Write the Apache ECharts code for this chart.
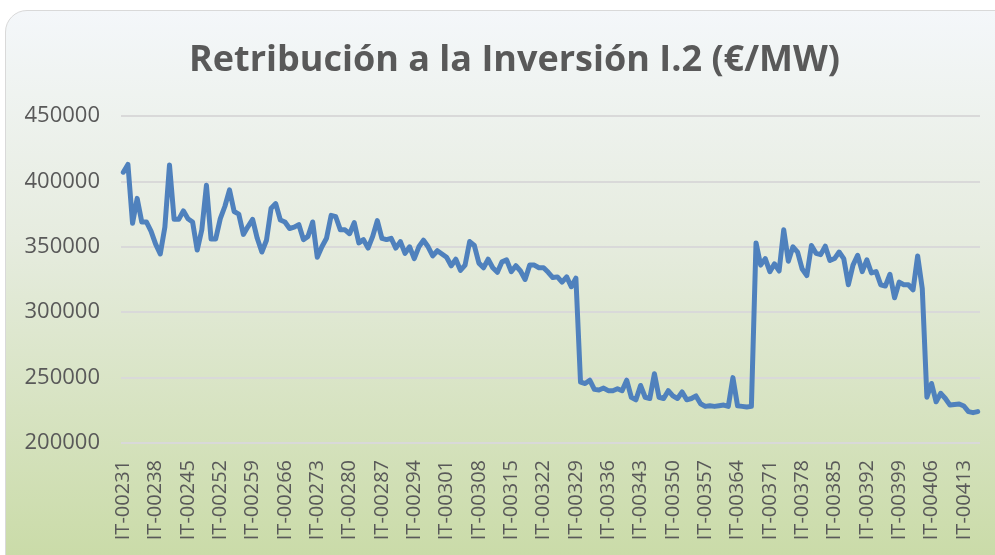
<!DOCTYPE html>
<html>
<head>
<meta charset="utf-8">
<script src="https://cdn.jsdelivr.net/npm/echarts@6/dist/echarts.min.js"></script>
<style>
  html, body { margin: 0; padding: 0; background: #ffffff; overflow: hidden; }
  #card {
    position: absolute; left: 5px; top: 10px; width: 1020px; height: 570px;
    border: 1.5px solid #d9d9d9; border-radius: 22px;
    background: linear-gradient(to bottom, #f4f7fa 0%, #e6ecdf 40%, #c8daa4 100%);
  }
  #myChart { position: absolute; left: 0; top: 0; width: 995px; height: 555px; }
</style>
</head>
<body>
<div id="card"></div>
<div id="myChart"></div>
<script>
// códigos de instalación IT-00231 ... IT-00416
const firstCode = 231;
const lastCode = 416;
const categories = [];
for (let c = firstCode; c <= lastCode; c++) {
  categories.push("IT-" + String(c).padStart(5, "0"));
}

// Retribución a la Inversión (€/MW)
const retribucion = [
  407000, 413000, 368000, 387000, 369000, 369000, 362000, 352000, 344500, 365000,
  412500, 371000, 371000, 377500, 371500, 369000, 347500, 363000, 397000, 356000,
  356000, 371500, 381000, 393500, 377000, 375000, 359500, 365500, 371000, 356500,
  346000, 355000, 379500, 383000, 370500, 369000, 364000, 365000, 367000, 355500,
  358000, 369000, 342000, 350000, 356500, 374000, 373000, 363000, 363000, 360000,
  368500, 353000, 355500, 349000, 358000, 370000, 356500, 355500, 356500, 349000,
  354000, 345000, 350000, 341000, 350000, 355000, 350000, 343000, 347000, 344500,
  342000, 335500, 340500, 332000, 336000, 354000, 351000, 337500, 334000, 340500,
  334000, 330500, 338500, 340000, 331000, 335500, 331500, 325000, 336000, 336000,
  334000, 334000, 330500, 326500, 327000, 323000, 327000, 319500, 326000, 246500,
  245500, 248000, 241000, 240500, 242000, 240000, 240000, 241500, 240000, 248000,
  235000, 233000, 244000, 235000, 234000, 253000, 235000, 234000, 240000, 236000,
  234000, 239000, 233000, 234000, 236000, 230000, 228000, 228500, 228000, 228500,
  229000, 228000, 250000, 228500, 228000, 227500, 228000, 353000, 336000, 341000,
  331000, 337000, 331500, 363000, 339000, 350000, 346000, 333000, 328000, 351000,
  345000, 344000, 350500, 339500, 341000, 346000, 341000, 321000, 336000, 343500,
  331000, 340000, 330000, 331000, 321000, 320000, 329000, 311000, 323000, 321000,
  321000, 317000, 343000, 318000, 235000, 245500, 231500, 238000, 234000, 229000,
  229500, 229800, 228300, 224000, 223200, 224000
];

const yMin = 200000;
const yMax = 450000;
const yStep = 50000;

const myChart = echarts.init(document.getElementById("myChart"), null, { renderer: "canvas" });
const option = {
  backgroundColor: "transparent",
  animation: false,
  title: {
    text: "Retribución a la Inversión I.2 (€/MW)",
    left: 184,
    top: 38,
    textStyle: {
      fontFamily: "Open Sans",
      fontSize: 36,
      fontWeight: "bold",
      color: "#595959",
    },
  },
  grid: {
    left: 121,
    right: 15,
    top: 116,
    bottom: 112,
  },
  xAxis: {
    type: "category",
    data: categories,
    boundaryGap: true,
    axisLine: { show: false },
    axisTick: { show: false },
    axisLabel: {
      interval: 6,
      rotate: 90,
      margin: 17,
      fontFamily: "Open Sans",
      fontSize: 20,
      color: "#595959",
    },
  },
  yAxis: {
    type: "value",
    min: yMin,
    max: yMax,
    interval: yStep,
    axisLine: { show: false },
    axisTick: { show: false },
    splitLine: { lineStyle: { color: "#d9d9d9", width: 2 } },
    axisLabel: {
      margin: 21,
      fontFamily: "Open Sans",
      fontSize: 22,
      color: "#595959",
      formatter: (v) => String(v),
    },
  },
  series: [
    {
      name: "Retribución a la Inversión",
      type: "line",
      data: retribucion,
      showSymbol: false,
      lineStyle: { color: "#4f81bd", width: 5, join: "round", cap: "round" },
    },
  ],
};
myChart.setOption(option);
</script>
</body>
</html>
